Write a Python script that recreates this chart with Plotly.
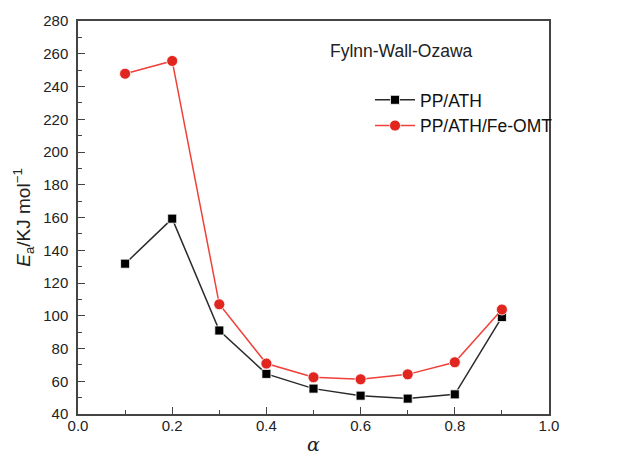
import plotly.graph_objects as go

alpha = [0.1, 0.2, 0.3, 0.4, 0.5, 0.6, 0.7, 0.8, 0.9]
pp_ath = [131.8, 159.3, 91, 64.5, 55.5, 51.2, 49.4, 52.0, 99.2]
pp_ath_feomt = [247.8, 255.6, 107, 70.8, 62.4, 61.2, 64.2, 71.6, 103.8]

font = "Liberation Sans, Arial, sans-serif"

fig = go.Figure()
fig.add_trace(go.Scatter(
    x=alpha, y=pp_ath, name="PP/ATH", mode="lines+markers",
    line=dict(color="#2a2a2a", width=1.5),
    marker=dict(symbol="square", size=9, color="#000000", line=dict(color="white", width=0.8)),
))
fig.add_trace(go.Scatter(
    x=alpha, y=pp_ath_feomt, name="PP/ATH/Fe-OMT", mode="lines+markers",
    line=dict(color="#f0403a", width=1.5),
    marker=dict(symbol="circle", size=11, color="#e0261f", line=dict(color="white", width=0.8)),
))

axis_common = dict(
    showline=True, linecolor="#444", linewidth=1.5, mirror=True,
    ticks="inside", ticklen=7, tickwidth=1.3, tickcolor="#444",
    showgrid=False, zeroline=False, automargin=False,
    tickfont=dict(family=font, size=15, color="#222"),
)

fig.update_layout(
    width=625, height=457,
    margin=dict(l=78, r=76, t=21, b=43),
    paper_bgcolor="white", plot_bgcolor="white",
    font=dict(family=font, color="#222"),
    xaxis=dict(range=[0, 1.0], dtick=0.2, tickformat=".1f", ticklabelstandoff=-3,
               minor=dict(dtick=0.1, ticks="inside", ticklen=4, tickcolor="#444", tickwidth=1.3),
               title=dict(text="<i>α</i>", font=dict(family="DejaVu Serif, serif", size=19), standoff=5),
               **axis_common),
    yaxis=dict(range=[40, 280], dtick=20, ticklabelstandoff=5,
               minor=dict(dtick=10, ticks="inside", ticklen=4, tickcolor="#444", tickwidth=1.3),
               title=dict(text="<i>E</i><sub>a</sub>/KJ mol<sup>−1</sup>", font=dict(family=font, size=19), standoff=8),
               **axis_common),
    legend=dict(x=0.62, y=0.845, xanchor="left", yanchor="top",
                font=dict(family=font, size=17.5, color="#111"),
                bgcolor="rgba(0,0,0,0)", tracegroupgap=0, itemwidth=40),
    showlegend=True,
    annotations=[dict(text="Fylnn-Wall-Ozawa", x=0.531, y=0.924, xref="paper", yref="paper",
                      xanchor="left", yanchor="middle", showarrow=False,
                      font=dict(family=font, size=17.5, color="#222"))],
)

fig.write_html("out.html", config={"displayModeBar": False},
               post_script="document.body.style.margin='0';")
